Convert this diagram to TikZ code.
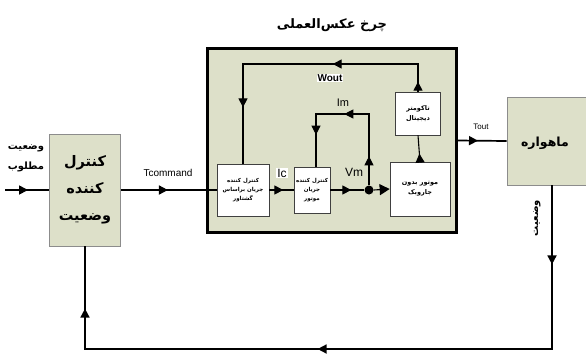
\documentclass[tikz,border=0pt]{standalone}
\usepackage{fontspec}
\setmainfont{Liberation Sans}
\newfontfamily\fa[Script=Arabic]{DejaVu Sans}
\TeXXeTstate=1
\usetikzlibrary{arrows.meta,decorations.markings}
\definecolor{sage}{RGB}{221,224,201}
\newcommand\rl[1]{\beginR#1\endR}
\tikzset{
  sagebox/.style={draw=black!45, fill=sage, line width=0.8pt, inner sep=0pt},
  whitebox/.style={draw=black!75, fill=white, line width=0.7pt, inner sep=0pt, align=center, font=\fa\bfseries\fontsize{5.5}{9}\selectfont},
  sig/.style={line width=1.7pt},
  tsig/.style={line width=1.1pt},
  arrowat/.style={postaction={decorate,decoration={markings,mark=at position #1 with {\arrow{Triangle[length=9pt,width=9pt]}}}}},
  lbl/.style={inner sep=1pt, fill=white},
  fatxt/.style 2 args={font=\fa\bfseries\fontsize{#1}{#2}\selectfont, align=center, inner sep=0pt}
}
\begin{document}
\begin{tikzpicture}[x=1pt,y=-1pt]
\useasboundingbox (0,0) rectangle (586,354);
\fill[white] (0,0) rectangle (586,354);

% title
\node[fatxt={13}{16}] (title) at (332,25) {\rl{چرخ عکس‌العملی}};

% inner big box
\node[draw=black, line width=3pt, fill=sage, minimum width=249pt, minimum height=184pt, inner sep=0pt] (inner) at (332,140.5) {};

% outer boxes
\node[sagebox, minimum width=71pt, minimum height=112pt] (ctrl) at (85,190) {};
\node[fatxt={14.5}{27}] (ctrltext) at (85,190) {\rl{کنترل}\\\rl{کننده}\\\rl{وضعیت}};
\node[sagebox, minimum width=90pt, minimum height=88pt] (sat) at (552,141) {};
\node[fatxt={12.5}{16}] (sattext) at (545,143) {\rl{ماهواره}};

% inner white boxes
\node[whitebox, minimum width=52pt, minimum height=52pt] (b1) at (243,190) {\rl{کنترل کننده}\\\rl{جریان براساس}\\\rl{گشتاور}};
\node[whitebox, minimum width=36pt, minimum height=46pt] (b2) at (312,190) {\rl{کنترل کننده}\\\rl{جریان}\\\rl{موتور}};
\node[whitebox, minimum width=60pt, minimum height=54pt, font=\fa\bfseries\fontsize{6.5}{10}\selectfont] (motor) at (420,189) {\rl{موتور بدون}\\\rl{جاروبک}};
\node[whitebox, minimum width=45pt, minimum height=43pt, font=\fa\bfseries\fontsize{6.5}{10}\selectfont] (tacho) at (418,113.5) {\rl{تاکومتر}\\\rl{دیجیتال}};
\node[circle, fill=black, minimum size=9pt, inner sep=0pt] (dot) at (369,190) {};

% coordinates
\coordinate (inp) at (5,190);
\coordinate (wtr) at (418,64);
\coordinate (wtl) at (243,64);
\coordinate (imtr) at (369,114);
\coordinate (imtl) at (316,114);
\coordinate (fbr) at (552,349);
\coordinate (fbl) at (85,349);

% connectors
\draw[sig, arrowat=23pt] (inp) -- (ctrl.west);
\draw[sig, arrowat=47pt] (ctrl.east) -- (b1.west);
\draw[tsig, arrowat=14pt] (b1.east) -- (b2.west);
\draw[tsig, arrowat=21pt] (b2.east) -- (dot.west);
\draw[tsig, -{Triangle[length=10pt,width=11pt]}] (dot.east) -- (motor.west);
\draw[tsig, arrowat=8pt] (motor.north) -- (tacho.south);
\draw[tsig, arrowat=10pt, arrowat=113pt, arrowat=246pt] (tacho.north) -- (wtr) -- (wtl) -- (b1.north);
\draw[tsig, arrowat=29pt, arrowat=96pt, arrowat=145pt] (dot.north) -- (imtr) -- (imtl) -- (imtl |- b2.north);
\draw[sig, arrowat=20pt] (inner.east) -- (sat.west);
\draw[sig, arrowat=79pt, arrowat=398pt, arrowat=671pt] (sat.south) -- (fbr) -- (fbl) -- (ctrl.south);

% labels
\node[fatxt={10}{20}] (inlbl) at (26,158) {\rl{وضعیت}\\\rl{مطلوب}};
\node[font=\fontsize{10}{12}\selectfont, inner sep=0pt] (tcmd) at (168,173) {Tcommand};
\node[lbl, font=\fontsize{12}{14}\selectfont] (ic) at (282,173) {Ic};
\node[font=\fontsize{12}{14}\selectfont, inner sep=0pt] (vm) at (354,172) {Vm};
\node[font=\fontsize{11}{13}\selectfont, inner sep=0pt] (im) at (343,103) {Im};
\node[lbl, font=\bfseries\fontsize{10}{12}\selectfont] (wout) at (330,78) {Wout};
\node[font=\fontsize{8}{10}\selectfont, inner sep=0pt] (tout) at (481,127) {Tout};
\node[fatxt={10}{12}, rotate=90] (vlbl) at (537,218) {\rl{وضعیت}};
\end{tikzpicture}
\end{document}
